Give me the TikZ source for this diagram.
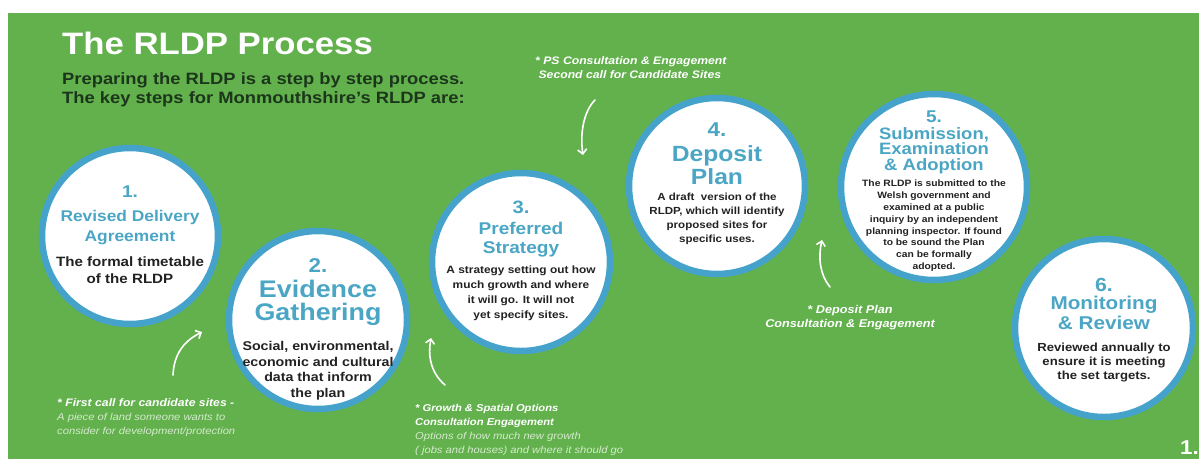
\documentclass[tikz,border=0pt]{standalone}
\usepackage{fontspec}
\setmainfont{Liberation Sans}[FakeStretch=1.12]
\usetikzlibrary{arrows.meta}
\definecolor{bggreen}{HTML}{62B14C}
\definecolor{ringblue}{HTML}{45A3CB}
\definecolor{ttlblue}{HTML}{4AA6C4}
\definecolor{bodyink}{HTML}{222222}
\definecolor{subink}{HTML}{1C361C}
\definecolor{notelight}{HTML}{D6EACF}
\newcommand{\fsz}[2]{\fontsize{#1}{#2}\selectfont}
\begin{document}
\begin{tikzpicture}[x=1pt,y=-1pt,
  stepcircle/.style={circle, draw=ringblue, line width=6.5pt, fill=white, minimum size=#1, inner sep=0pt},
  num/.style={anchor=north, inner sep=0pt, text=ttlblue, font=\bfseries\fsz{#1}{#1}},
  ttl/.style 2 args={anchor=north, inner sep=0pt, align=center, text=ttlblue, font=\bfseries\fsz{#1}{#2}},
  body/.style 2 args={anchor=north, inner sep=0pt, align=center, text=bodyink, font=\bfseries\fsz{#1}{#2}},
  note/.style={inner sep=0pt, text=notelight, font=\itshape\fsz{10}{14}},
  notebold/.style={inner sep=0pt, text=white, font=\bfseries\itshape\fsz{#1}{14}},
  curvearrow/.style={draw=white, line width=1.6pt, line cap=round, -{Straight Barb[length=4.5pt,width=9pt]}}
]
\path[fill=white] (0,0) rectangle (1199,459);
\path[fill=bggreen] (8,13) rectangle (1199,459);
\useasboundingbox (0,0) rectangle (1199,459);

% heading
\node[anchor=base west, inner sep=0pt, text=white, font=\bfseries\fsz{31}{31}] (title) at (62,54) {The RLDP Process};
\node[anchor=north west, inner sep=0pt, align=left, text=subink, font=\bfseries\fsz{16.4}{19}] (sub) at (62,72)
  {Preparing the RLDP is a step by step process.\\The key steps for Monmouthshire’s RLDP are:};

% circles
\node[stepcircle=176] (c1) at (130,236) {};
\node[stepcircle=178] (c2) at (318,320) {};
\node[stepcircle=178] (c3) at (521,262) {};
\node[stepcircle=176] (c4) at (717,186) {};
\node[stepcircle=186] (c5) at (934,187) {};
\node[stepcircle=178] (c6) at (1104,328) {};

% circle 1
\node[num=17] (n1) at (130,186) {1.};
\node[ttl={15.5}{20}] (t1) at (130,210) {Revised Delivery\\Agreement};
\node[body={13.5}{17}] (b1) at (130,257) {The formal timetable\\of the RLDP};
% circle 2
\node[num=20] (n2) at (318,258) {2.};
\node[ttl={24}{23}] (t2) at (318,280) {Evidence\\Gathering};
\node[body={12.7}{15.7}] (b2) at (318,341) {Social, environmental,\\economic and cultural\\data that inform\\the plan};
% circle 3
\node[num=18] (n3) at (521,201) {3.};
\node[ttl={17}{19}] (t3) at (521,222) {Preferred\\Strategy};
\node[body={10.6}{15}] (b3) at (521,266) {A strategy setting out how\\much growth and where\\it will go. It will not\\yet specify sites.};
% circle 4
\node[num=20] (n4) at (717,123) {4.};
\node[ttl={22}{23}] (t4) at (717,145) {Deposit\\Plan};
\node[body={10.3}{14}] (b4) at (717,193) {A draft\ \ version of the\\RLDP, which will identify\\proposed sites for\\specific uses.};
% circle 5
\node[num=17] (n5) at (934,111) {5.};
\node[ttl={16.5}{15.8}] (t5) at (934,127) {Submission,\\Examination\\\& Adoption};
\node[body={9.2}{11.8}] (b5) at (934,180) {The RLDP is submitted to the\\Welsh government and\\examined at a public\\inquiry by an independent\\planning inspector. If found\\to be sound the Plan\\can be formally\\adopted.};
% circle 6
\node[num=19] (n6) at (1104,278) {6.};
\node[ttl={18.5}{20}] (t6) at (1104,296) {Monitoring\\\& Review};
\node[body={11.7}{13.8}] (b6) at (1104,343) {Reviewed annually to\\ensure it is meeting\\the set targets.};

% annotations
\node[note, anchor=north west, align=left] (a1) at (57,398)
  {\textcolor{white}{\bfseries\fsz{10.9}{14}* First call for candidate sites -}\\A piece of land someone wants to\\consider for development/protection};
\node[note, anchor=north west, align=left] (a2) at (415,404)
  {\textcolor{white}{\bfseries * Growth \& Spatial Options}\\\textcolor{white}{\bfseries Consultation Engagement}\\Options of how much new growth\\( jobs and houses) and where it should go};
\node[notebold=10.9, anchor=north west, align=left] (a3) at (535,56)
  {* PS Consultation \& Engagement\\\ Second call for Candidate Sites};
\node[notebold=11.3, anchor=north, align=center] (a4) at (850,305)
  {* Deposit Plan\\Consultation \& Engagement};

\node[anchor=base west, inner sep=0pt, text=white, font=\bfseries\fsz{20}{20}] (pg) at (1180,454) {1.};

% arrows
\coordinate (r1s) at (173,375); \coordinate (r1e) at (202,332);
\coordinate (r2s) at (445,385); \coordinate (r2e) at (431,338);
\coordinate (r3s) at (595,100); \coordinate (r3e) at (583,155);
\coordinate (r4s) at (830,287); \coordinate (r4e) at (822,240);
\draw[curvearrow] (r1s) .. controls (174,352) and (186,340) .. (r1e);
\draw[curvearrow] (r2s) .. controls (430,372) and (428,355) .. (r2e);
\draw[curvearrow] (r3s) .. controls (583,112) and (580,135) .. (r3e);
\draw[curvearrow] (r4s) .. controls (820,275) and (818,258) .. (r4e);
\end{tikzpicture}
\end{document}
